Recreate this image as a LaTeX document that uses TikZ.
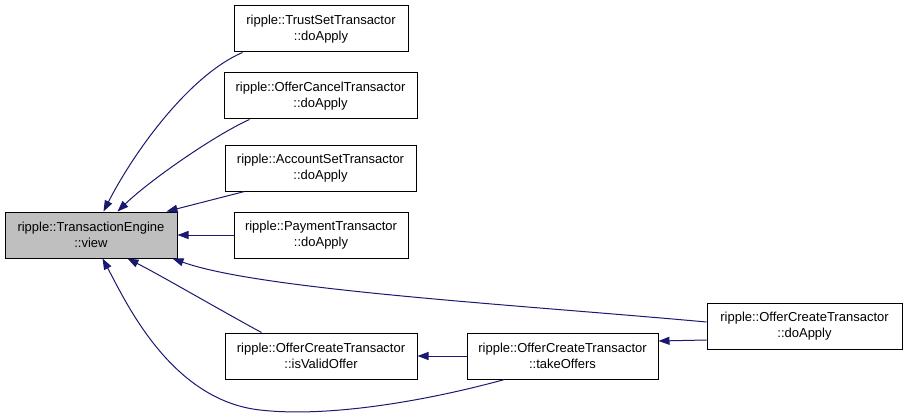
\documentclass[tikz,border=0pt]{standalone}
\usepackage{fontspec}
\setmainfont{Liberation Sans}
\usetikzlibrary{arrows.meta,calc}
\definecolor{edgeblue}{HTML}{191970}
\definecolor{nodegray}{HTML}{BFBFBF}
\begin{document}
\begin{tikzpicture}[x=1pt,y=-1pt,
  fn/.style={draw=black,line width=1pt,fill=white,align=center,inner sep=0pt,
    minimum height=46pt,font=\fontsize{13}{15.5}\selectfont},
  edge/.style={draw=edgeblue,line width=1pt,-{Triangle[length=11pt,width=8pt]}}]
\useasboundingbox (0,0) rectangle (904,417);
\node[fn,fill=nodegray,minimum width=172pt] (view) at (91,235) {ripple::TransactionEngine\\::view};
\node[fn,minimum width=174pt] (trust) at (321,29) {ripple::TrustSetTransactor\\::doApply};
\node[fn,minimum width=193pt] (cancel) at (320.5,96) {ripple::OfferCancelTransactor\\::doApply};
\node[fn,minimum width=191pt] (account) at (320.5,168) {ripple::AccountSetTransactor\\::doApply};
\node[fn,minimum width=174pt] (payment) at (321,235) {ripple::PaymentTransactor\\::doApply};
\node[fn,minimum width=192pt] (valid) at (321,356) {ripple::OfferCreateTransactor\\::isValidOffer};
\node[fn,minimum width=191pt] (take) at (562.5,356) {ripple::OfferCreateTransactor\\::takeOffers};
\node[fn,minimum width=195pt] (create) at (804.5,326) {ripple::OfferCreateTransactor\\::doApply};

\draw[edge] ($(trust.south west)+(9,0)$) .. controls (190,75) and (135,150) .. ($(view.north west)+(99,0)$);
\draw[edge] ($(cancel.south west)+(26,0)$) .. controls (215,135) and (150,180) .. ($(view.north west)+(113,0)$);
\draw[edge] ($(account.south west)+(20,0)$) -- ($(view.north west)+(162,0)$);
\draw[edge] (payment.west) -- (view.east);
\draw[edge] ($(create.west)+(0,-4)$) .. controls (520,305) and (260,290) .. ($(view.south east)+(-5,0)$);
\draw[edge] ($(valid.north west)+(37,0)$) .. controls (220,310) and (160,275) .. ($(view.south west)+(123,0)$);
\draw[edge] ($(take.south west)+(38,0)$) .. controls (430,400) and (330,418) .. (260,410) .. controls (170,400) and (125,300) .. ($(view.south west)+(98,0)$);
\draw[edge] (take.west) -- (valid.east);
\draw[edge] ($(create.west)+(0,14)$) -- ($(take.east)+(0,-15)$);
\end{tikzpicture}
\end{document}
